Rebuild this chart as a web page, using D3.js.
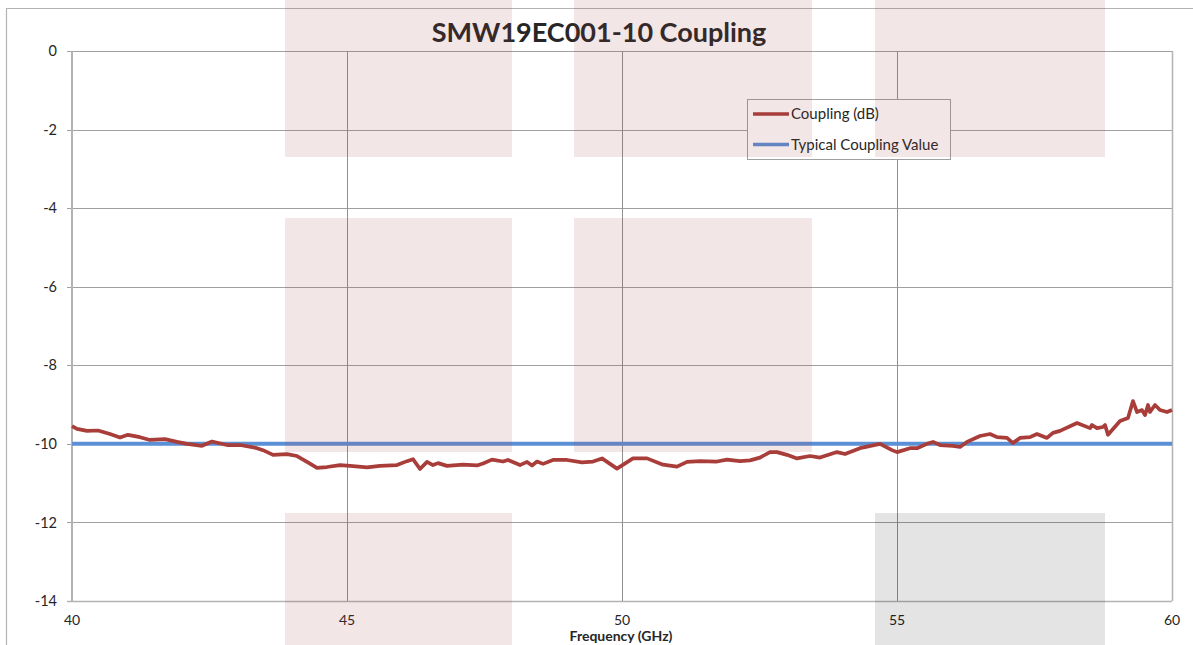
<!DOCTYPE html>
<html>
<head>
<meta charset="utf-8">
<script src="https://cdn.jsdelivr.net/npm/d3@7"></script>
<style>
  html, body { margin: 0; padding: 0; background: #fff; overflow: hidden; }
  svg { display: block; font-family: Lato, "Open Sans", sans-serif; }
</style>
</head>
<body>
<svg id="chart" width="1193" height="645"></svg>
<script>
const title = "SMW19EC001-10 Coupling";
const xTitle = "Frequency (GHz)";
const seriesNames = ["Coupling (dB)", "Typical Coupling Value"];

const freq = [40.000,40.091,40.273,40.473,40.691,40.873,41.018,41.236,41.418,41.691,41.909,42.091,42.364,42.545,42.818,43.055,43.364,43.473,43.655,43.909,44.091,44.273,44.455,44.636,44.873,45.055,45.364,45.600,45.909,46.091,46.200,46.327,46.455,46.564,46.655,46.818,47.109,47.364,47.473,47.636,47.836,47.927,48.145,48.273,48.364,48.455,48.564,48.745,49.000,49.273,49.473,49.636,49.909,50.200,50.455,50.745,51.000,51.182,51.418,51.727,51.909,52.145,52.327,52.509,52.691,52.818,53.000,53.182,53.418,53.600,53.909,54.055,54.327,54.691,54.909,55.000,55.236,55.364,55.545,55.655,55.782,56.018,56.145,56.273,56.509,56.691,56.818,57.000,57.109,57.236,57.418,57.545,57.727,57.836,57.964,58.273,58.509,58.545,58.636,58.745,58.782,58.836,59.055,59.200,59.291,59.364,59.455,59.509,59.564,59.600,59.691,59.782,59.909,60.000];
const coupling = [-9.55,-9.62,-9.67,-9.66,-9.75,-9.84,-9.77,-9.83,-9.90,-9.88,-9.95,-10.00,-10.05,-9.94,-10.03,-10.03,-10.11,-10.16,-10.28,-10.26,-10.31,-10.46,-10.61,-10.59,-10.54,-10.56,-10.60,-10.56,-10.54,-10.44,-10.39,-10.64,-10.46,-10.54,-10.49,-10.56,-10.53,-10.55,-10.50,-10.40,-10.45,-10.41,-10.54,-10.46,-10.55,-10.45,-10.51,-10.41,-10.41,-10.47,-10.45,-10.37,-10.63,-10.37,-10.37,-10.53,-10.58,-10.46,-10.44,-10.45,-10.40,-10.44,-10.42,-10.35,-10.21,-10.21,-10.28,-10.37,-10.31,-10.35,-10.21,-10.26,-10.11,-10.00,-10.16,-10.21,-10.11,-10.11,-10.00,-9.95,-10.03,-10.05,-10.08,-9.95,-9.80,-9.75,-9.83,-9.85,-9.98,-9.85,-9.83,-9.75,-9.85,-9.72,-9.67,-9.47,-9.60,-9.52,-9.60,-9.57,-9.52,-9.77,-9.42,-9.34,-8.91,-9.19,-9.14,-9.27,-9.01,-9.19,-9.01,-9.14,-9.19,-9.14];
const typicalFreq = [40, 60];
const typicalValue = [-10, -10];
const xTicks = [40, 45, 50, 55, 60];
const yTicks = [0, -2, -4, -6, -8, -10, -12, -14];

const svg = d3.select("#chart");
const pL = 72, pR = 1172, pT = 51, pB = 601;
const x = d3.scaleLinear().domain([40, 60]).range([pL, pR]);
const y = d3.scaleLinear().domain([-14, 0]).range([pB, pT]);

// outer chart border (extends beyond view)
svg.append("path")
  .attr("d", "M6.5,700 V8.5 H1200")
  .attr("fill", "none").attr("stroke", "#b3b3b3").attr("stroke-width", 1.2);

// gridlines
const g = svg.append("g");
g.selectAll(".hg").data(yTicks).enter().append("line")
  .attr("x1", pL - 5).attr("x2", pR)
  .attr("y1", d => Math.round(y(d)) + 0.5).attr("y2", d => Math.round(y(d)) + 0.5)
  .attr("stroke", d => d === -14 ? "#b3b3b3" : "#a0a0a0").attr("stroke-width", d => d === -14 ? 1.5 : 1);
g.selectAll(".vg").data(xTicks.slice(1)).enter().append("line")
  .attr("x1", d => Math.round(x(d)) + 0.5).attr("x2", d => Math.round(x(d)) + 0.5)
  .attr("y1", pT).attr("y2", pB)
  .attr("stroke", d => d === 60 ? "#b3b3b3" : "#909090").attr("stroke-width", d => d === 60 ? 1.5 : 1);
// left axis
g.append("line").attr("x1", pL).attr("x2", pL).attr("y1", pT).attr("y2", pB)
  .attr("stroke", "#b3b3b3").attr("stroke-width", 2);

// y labels
svg.append("g").selectAll("text").data(yTicks).enter().append("text")
  .attr("x", 57).attr("y", d => y(d)).attr("dy", "0.35em")
  .attr("text-anchor", "end").attr("font-size", 14.5).attr("fill", "#262626")
  .text(d => d);
// x labels
svg.append("g").selectAll("text").data(xTicks).enter().append("text")
  .attr("x", d => x(d)).attr("y", 624.5)
  .attr("text-anchor", "middle").attr("font-size", 14).attr("fill", "#262626")
  .text(d => d);

svg.append("text").attr("x", 621).attr("y", 641).attr("text-anchor", "middle")
  .attr("font-size", 14).attr("font-weight", "bold").attr("fill", "#262626").text(xTitle);

svg.append("text").attr("x", 599).attr("y", 42).attr("text-anchor", "middle")
  .attr("font-size", 27).attr("font-weight", "bold").attr("fill", "#262626").text(title);

// series
const line = d3.line().x(d => x(d[0])).y(d => y(d[1])).curve(d3.curveLinear);
const coup = freq.map((f, i) => [f, coupling[i]]);
const typ = typicalFreq.map((f, i) => [f, typicalValue[i]]);
svg.append("path").datum(typ).attr("d", line).attr("fill", "none")
  .attr("stroke", "#5b8fd6").attr("stroke-width", 4);
svg.append("path").datum(coup).attr("d", line).attr("fill", "none")
  .attr("stroke", "#a83d3a").attr("stroke-width", 3.7).attr("stroke-linejoin", "round");

// legend
const lg = svg.append("g");
lg.append("rect").attr("x", 747.5).attr("y", 99.5).attr("width", 203).attr("height", 60)
  .attr("fill", "#fff").attr("stroke", "#a0a0a0").attr("stroke-width", 1);
const colors = ["#a83d3a", "#5b8fd6"];
seriesNames.forEach((n, i) => {
  const yy = 114 + i * 30.5;
  lg.append("line").attr("x1", 753).attr("x2", 789).attr("y1", yy).attr("y2", yy)
    .attr("stroke", colors[i]).attr("stroke-width", 3.5);
  lg.append("text").attr("x", 791).attr("y", yy).attr("dy", "0.35em")
    .attr("font-size", 15).attr("fill", "#262626").text(n);
});

// translucent overlay blocks (watermark)
const blocks = [
  [285, 0, 512, 157, "p"], [574, 0, 812, 157, "p"], [875, 0, 1105, 157, "p"],
  [285, 218, 512, 452, "p"], [574, 218, 812, 452, "p"],
  [285, 513, 512, 645, "p"], [875, 513, 1105, 645, "g"]
];
svg.append("g").selectAll("rect").data(blocks).enter().append("rect")
  .attr("x", d => d[0]).attr("y", d => d[1]).attr("width", d => d[2] - d[0]).attr("height", d => d[3] - d[1])
  .attr("fill", d => d[4] === "p" ? "rgb(163,63,63)" : "rgb(0,0,0)")
  .attr("fill-opacity", d => d[4] === "p" ? 0.13 : 0.105);
</script>
</body>
</html>
